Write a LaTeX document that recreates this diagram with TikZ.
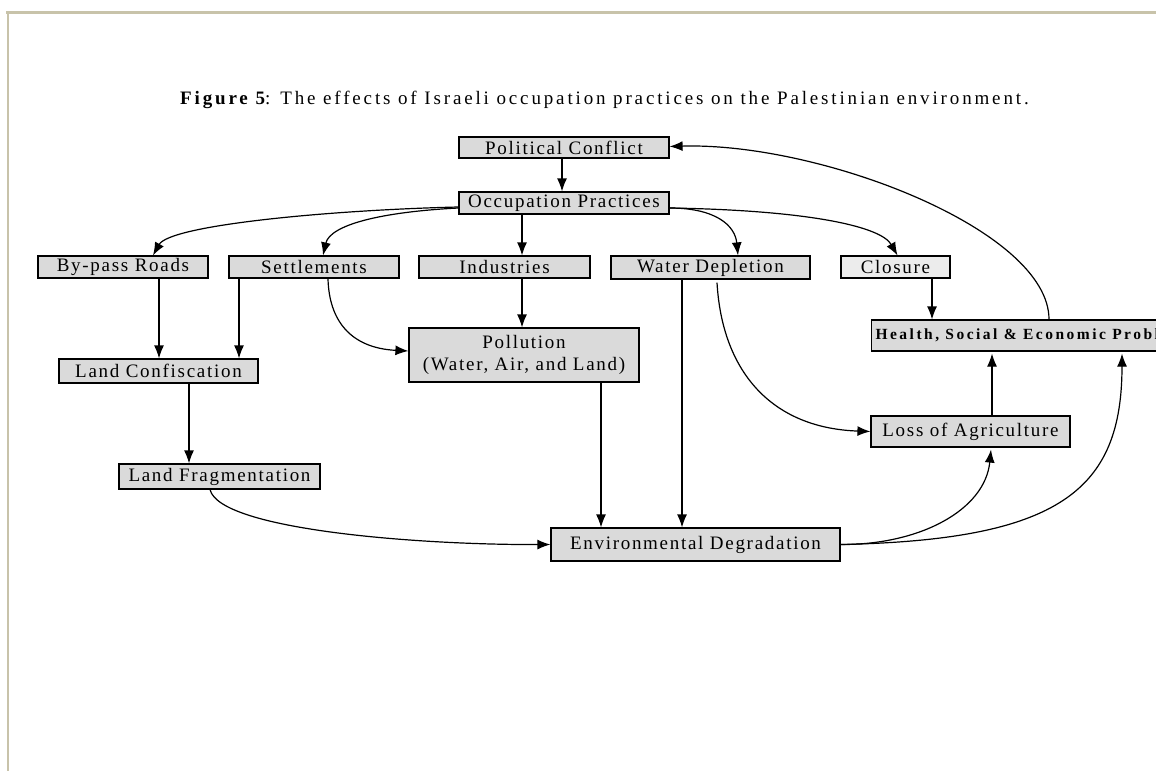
\documentclass[tikz,border=0pt]{standalone}
\usepackage{fontspec}
\setmainfont{Liberation Serif}
\newfontfamily\dfont[LetterSpace=9]{Liberation Serif}
\newfontfamily\tfont[LetterSpace=15]{Liberation Serif}
\newfontfamily\hfont[LetterSpace=16]{Liberation Serif}
\usetikzlibrary{arrows.meta}
\definecolor{boxfill}{RGB}{218,218,218}
\definecolor{clfill}{RGB}{236,236,236}
\definecolor{framecol}{RGB}{200,195,170}
\newcommand\bxfont{\dfont\fontsize{19}{22}\selectfont}
\tikzset{
  box/.style={draw=black, line width=1.2pt, fill=boxfill, inner sep=0pt, align=center, font=\bxfont},
  arr/.style={-{Latex[length=13pt,width=10pt]}, line width=1.2pt},
}
\begin{document}
\begin{tikzpicture}[x=1pt,y=-1pt]
\clip (0,0) rectangle (1156,771);
\fill[white] (0,0) rectangle (1156,771);
% window frame
\draw[framecol, line width=3pt] (6,12.5) -- (1156,12.5);
\draw[framecol, line width=2pt] (7.5,12) -- (7.5,771);
% title
\node[anchor=west, inner sep=0pt] (title) at (180,100) {\tfont\fontsize{19}{22}\selectfont\bfseries Figure 5\mdseries:\hspace{10pt}The effects of Israeli occupation practices on the Palestinian environment.};
% boxes
\node[box, minimum width=210pt, minimum height=21pt] (pc) at (564,147.5) {Political Conflict};
\node[box, minimum width=210pt, minimum height=22pt] (op) at (564,203) {Occupation Practices};
\node[box, minimum width=170pt, minimum height=22pt] (br) at (123,267) {By-pass Roads};
\node[box, minimum width=170pt, minimum height=22pt] (set) at (314,267) {Settlements};
\node[box, minimum width=171pt, minimum height=22pt] (ind) at (504.5,267) {Industries};
\node[box, minimum width=199pt, minimum height=23pt] (wd) at (710.5,267.5) {Water Depletion};
\node[box, fill=clfill, minimum width=109pt, minimum height=22pt] (cl) at (895.5,267) {Closure};
\node[box, anchor=west, inner xsep=4pt, minimum height=31pt, font=\hfont\bfseries\fontsize{15.5}{18}\selectfont] (hs) at (871,335.5) {Health, Social \& Economic Problems};
\node[box, minimum width=230pt, minimum height=54pt] (pol) at (524,355) {Pollution\\(Water, Air, and Land)};
\node[box, minimum width=199pt, minimum height=24pt] (lc) at (158.5,371) {Land Confiscation};
\node[box, minimum width=201pt, minimum height=25pt] (lf) at (219.5,476.5) {Land Fragmentation};
\node[box, minimum width=199pt, minimum height=31pt] (lo) at (970.5,431.5) {Loss of Agriculture};
\node[box, minimum width=289pt, minimum height=33pt] (env) at (695.5,544.5) {Environmental Degradation};
% straight connectors
\draw[arr] ([xshift=-2pt]pc.south) -- ([xshift=-2pt]op.north);
\draw[arr] ([xshift=17.5pt]ind.north |- op.south) -- ([xshift=17.5pt]ind.north);
\draw[arr] ([xshift=17.5pt]ind.south) -- ([xshift=17.5pt]ind.south |- pol.north);
\draw[arr] ([xshift=36.5pt]cl.south) -- ([xshift=36.5pt]cl.south |- hs.north);
\draw[arr] ([xshift=36pt]br.south) -- ([xshift=36pt]br.south |- lc.north);
\draw[arr] ([xshift=-75pt]set.south) -- ([xshift=-75pt]set.south |- lc.north);
\draw[arr] ([xshift=30.5pt]lc.south) -- ([xshift=30.5pt]lc.south |- lf.north);
\draw[arr] ([xshift=77pt]pol.south) -- ([xshift=77pt]pol.south |- env.north);
\draw[arr] ([xshift=-28.5pt]wd.south) -- ([xshift=-28.5pt]wd.south |- env.north);
\draw[arr] ([xshift=21.5pt]lo.north) -- ([xshift=21.5pt,yshift=-2pt]lo.north |- hs.south);
% curved connectors
\draw[arr] ([yshift=-4pt]op.west) .. controls (330,210) and (170,225) .. ([xshift=30pt]br.north);
\draw[arr] ([yshift=-5pt]op.west) .. controls (380,212) and (330,225) .. ([xshift=9pt]set.north);
\draw[arr] ([yshift=-5pt]op.east) .. controls (715,208) and (735,225) .. ([xshift=27.5pt]wd.north);
\draw[arr] ([yshift=-5pt]op.east) .. controls (800,210) and (880,225) .. ([xshift=2pt]cl.north);
\draw[arr] ([xshift=178pt]hs.north west) .. controls (1049,230) and (820,142) .. ([yshift=1pt]pc.east);
\draw[arr] ([xshift=14pt]set.south) .. controls (329,320) and (350,348) .. ([yshift=4pt]pol.west);
\draw[arr] ([xshift=-9.5pt]lf.south) .. controls (220,530) and (420,545) .. (env.west);
\draw[arr] ([xshift=6.5pt,yshift=-3pt]wd.south) .. controls (722,370) and (770,428) .. (lo.west);
\draw[arr] (env.east) .. controls (920,545) and (985,510) .. ([xshift=20.5pt,yshift=-2pt]lo.south);
\draw[arr] (env.east) .. controls (1060,540) and (1122,490) .. ([xshift=251pt,yshift=-2pt]hs.south west);
\end{tikzpicture}
\end{document}
